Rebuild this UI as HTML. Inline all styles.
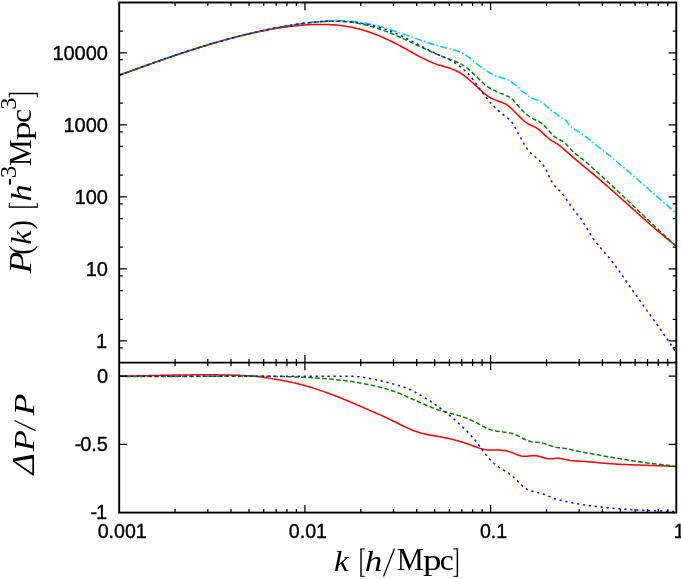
<!DOCTYPE html>
<html><head><meta charset="utf-8"><title>P(k)</title>
<style>
html,body{margin:0;padding:0;background:#fff;}
body{width:681px;height:579px;position:relative;overflow:hidden;font-family:"Liberation Sans",sans-serif;}
</style></head><body>
<svg width="681" height="579" viewBox="0 0 681 579" style="position:absolute;left:0;top:0;will-change:transform">
<rect x="0" y="0" width="681" height="579" fill="#fff"/>
<defs><clipPath id="ct"><rect x="119.2" y="2.5" width="557.1" height="360.1"/></clipPath>
<clipPath id="cb"><rect x="119.2" y="362.6" width="557.1" height="150"/></clipPath></defs>
<g fill="none" stroke-width="1.5" stroke-linejoin="round" clip-path="url(#ct)">
<path d="M119.2,75.19 L120.7,74.66 L122.2,74.13 L123.7,73.6 L125.2,73.07 L126.7,72.54 L128.2,72 L129.7,71.47 L131.2,70.94 L132.7,70.4 L134.2,69.87 L135.7,69.33 L137.2,68.79 L138.7,68.26 L140.2,67.72 L141.7,67.18 L143.2,66.65 L144.7,66.11 L146.2,65.57 L147.7,65.04 L149.2,64.5 L150.7,63.97 L152.2,63.43 L153.7,62.9 L155.2,62.36 L156.7,61.83 L158.2,61.3 L159.7,60.77 L161.2,60.24 L162.7,59.71 L164.2,59.18 L165.7,58.66 L167.2,58.13 L168.7,57.61 L170.2,57.09 L171.7,56.57 L173.2,56.05 L174.7,55.53 L176.2,55.02 L177.7,54.51 L179.2,54 L180.7,53.49 L182.2,52.98 L183.7,52.48 L185.2,51.98 L186.7,51.48 L188.2,50.99 L189.7,50.5 L191.2,50.01 L192.7,49.52 L194.2,49.04 L195.7,48.56 L197.2,48.08 L198.7,47.6 L200.2,47.13 L201.7,46.67 L203.2,46.2 L204.7,45.74 L206.2,45.29 L207.7,44.84 L209.2,44.39 L210.7,43.94 L212.2,43.5 L213.7,43.07 L215.2,42.64 L216.7,42.21 L218.2,41.78 L219.7,41.36 L221.2,40.95 L222.7,40.53 L224.2,40.12 L225.7,39.72 L227.2,39.32 L228.7,38.92 L230.2,38.52 L231.7,38.13 L233.2,37.74 L234.7,37.36 L236.2,36.98 L237.7,36.6 L239.2,36.23 L240.7,35.86 L242.2,35.49 L243.7,35.13 L245.2,34.77 L246.7,34.41 L248.2,34.06 L249.7,33.7 L251.2,33.36 L252.7,33.01 L254.2,32.67 L255.7,32.33 L257.2,32 L258.7,31.66 L260.2,31.34 L261.7,31.01 L263.2,30.69 L264.7,30.36 L266.2,30.05 L267.7,29.73 L269.2,29.42 L270.7,29.11 L272.2,28.8 L273.7,28.5 L275.2,28.2 L276.7,27.9 L278.2,27.6 L279.7,27.31 L281.2,27.02 L282.7,26.74 L284.2,26.45 L285.7,26.18 L287.2,25.9 L288.7,25.63 L290.2,25.37 L291.7,25.11 L293.2,24.85 L294.7,24.61 L296.2,24.36 L297.7,24.12 L299.2,23.89 L300.7,23.67 L302.2,23.45 L303.7,23.24 L305.2,23.03 L306.7,22.83 L308.2,22.64 L309.7,22.46 L311.2,22.28 L312.7,22.12 L314.2,21.96 L315.7,21.81 L317.2,21.67 L318.7,21.53 L320.2,21.41 L321.7,21.3 L323.2,21.19 L324.7,21.1 L326.2,21.01 L327.7,20.94 L329.2,20.88 L330.7,20.82 L332.2,20.78 L333.7,20.75 L335.2,20.73 L336.7,20.72 L338.2,20.73 L339.7,20.74 L341.2,20.77 L342.7,20.81 L344.2,20.87 L345.7,20.94 L347.2,21.02 L348.7,21.11 L350.2,21.22 L351.7,21.34 L353.2,21.47 L354.7,21.62 L356.2,21.79 L357.7,21.97 L359.2,22.16 L360.7,22.37 L362.2,22.59 L363.7,22.83 L365.2,23.09 L366.7,23.36 L368.2,23.65 L369.7,23.96 L371.2,24.28 L372.7,24.62 L374.2,24.97 L375.7,25.34 L377.2,25.72 L378.7,26.12 L380.2,26.53 L381.7,26.95 L383.2,27.38 L384.7,27.82 L386.2,28.28 L387.7,28.74 L389.2,29.22 L390.7,29.7 L392.2,30.19 L393.7,30.68 L395.2,31.19 L396.7,31.7 L398.2,32.21 L399.7,32.73 L401.2,33.26 L402.7,33.79 L404.2,34.32 L405.7,34.85 L407.2,35.39 L408.7,35.92 L410.2,36.46 L411.7,37 L413.2,37.53 L414.7,38.07 L416.2,38.6 L417.7,39.13 L419.2,39.66 L420.7,40.18 L422.2,40.7 L423.7,41.22 L425.2,41.72 L426.7,42.23 L428.2,42.72 L429.7,43.21 L431.2,43.69 L432.7,44.16 L434.2,44.62 L435.7,45.07 L437.2,45.51 L438.7,45.94 L440.2,46.36 L441.7,46.76 L443.2,47.16 L444.7,47.53 L446.2,47.9 L447.7,48.26 L449.2,48.62 L450.7,48.99 L452.2,49.38 L453.7,49.8 L455.2,50.25 L456.7,50.75 L458.2,51.3 L459.7,51.91 L461.2,52.58 L462.7,53.34 L464.2,54.17 L465.7,55.11 L467.2,56.14 L468.7,57.27 L470.2,58.46 L471.7,59.7 L473.2,60.95 L474.7,62.19 L476.2,63.39 L477.7,64.56 L479.2,65.7 L480.7,66.8 L482.2,67.87 L483.7,68.91 L485.2,69.91 L486.7,70.88 L488.2,71.82 L489.7,72.72 L491.2,73.57 L492.7,74.38 L494.2,75.11 L495.7,75.77 L497.2,76.34 L498.7,76.84 L500.2,77.3 L501.7,77.74 L503.2,78.2 L504.7,78.69 L506.2,79.26 L507.7,79.93 L509.2,80.72 L510.7,81.68 L512.2,82.78 L513.7,83.85 L515.2,84.71 L516.7,85.58 L518.2,86.85 L519.7,88.72 L521.2,90.57 L522.7,91.78 L524.2,92.57 L525.7,93.48 L527.2,94.77 L528.7,96.12 L530.2,97.23 L531.7,98.08 L533.2,98.76 L534.7,99.32 L536.2,99.85 L537.7,100.41 L539.2,101.03 L540.7,101.77 L542.2,102.66 L543.7,103.73 L545.2,104.99 L546.7,106.37 L548.2,107.79 L549.7,109.16 L551.2,110.4 L552.7,111.48 L554.2,112.48 L555.7,113.48 L557.2,114.57 L558.7,115.81 L560.2,117.1 L561.7,118.07 L563.2,118.62 L564.7,119.32 L566.2,120.79 L567.7,122.94 L569.2,125.02 L570.7,126.63 L572.2,127.85 L573.7,128.81 L575.2,129.63 L576.7,130.44 L578.2,131.32 L579.7,132.27 L581.2,133.28 L582.7,134.34 L584.2,135.44 L585.7,136.58 L587.2,137.76 L588.7,138.95 L590.2,140.17 L591.7,141.4 L593.2,142.64 L594.7,143.87 L596.2,145.1 L597.7,146.31 L599.2,147.5 L600.7,148.67 L602.2,149.84 L603.7,151 L605.2,152.17 L606.7,153.35 L608.2,154.55 L609.7,155.76 L611.2,156.98 L612.7,158.22 L614.2,159.46 L615.7,160.71 L617.2,161.97 L618.7,163.24 L620.2,164.52 L621.7,165.79 L623.2,167.08 L624.7,168.36 L626.2,169.65 L627.7,170.94 L629.2,172.23 L630.7,173.53 L632.2,174.82 L633.7,176.12 L635.2,177.43 L636.7,178.73 L638.2,180.03 L639.7,181.34 L641.2,182.65 L642.7,183.96 L644.2,185.27 L645.7,186.58 L647.2,187.9 L648.7,189.21 L650.2,190.53 L651.7,191.84 L653.2,193.16 L654.7,194.48 L656.2,195.8 L657.7,197.12 L659.2,198.44 L660.7,199.75 L662.2,201.07 L663.7,202.39 L665.2,203.71 L666.7,205.03 L668.2,206.35 L669.7,207.67 L671.2,208.99 L672.7,210.31 L674.2,211.62 L675.7,212.94 L676.2,213.38" stroke="#00c8ff" stroke-dasharray="7.2 2.3 1.5 2.3"/>
<path d="M119.2,75.19 L120.7,74.66 L122.2,74.13 L123.7,73.59 L125.2,73.06 L126.7,72.52 L128.2,71.98 L129.7,71.45 L131.2,70.91 L132.7,70.37 L134.2,69.84 L135.7,69.3 L137.2,68.76 L138.7,68.23 L140.2,67.69 L141.7,67.15 L143.2,66.62 L144.7,66.08 L146.2,65.55 L147.7,65.01 L149.2,64.48 L150.7,63.94 L152.2,63.41 L153.7,62.88 L155.2,62.35 L156.7,61.82 L158.2,61.29 L159.7,60.76 L161.2,60.24 L162.7,59.71 L164.2,59.19 L165.7,58.66 L167.2,58.14 L168.7,57.62 L170.2,57.1 L171.7,56.59 L173.2,56.07 L174.7,55.56 L176.2,55.05 L177.7,54.54 L179.2,54.03 L180.7,53.53 L182.2,53.02 L183.7,52.52 L185.2,52.02 L186.7,51.53 L188.2,51.03 L189.7,50.54 L191.2,50.06 L192.7,49.57 L194.2,49.09 L195.7,48.61 L197.2,48.13 L198.7,47.65 L200.2,47.18 L201.7,46.72 L203.2,46.25 L204.7,45.79 L206.2,45.33 L207.7,44.87 L209.2,44.42 L210.7,43.97 L212.2,43.53 L213.7,43.09 L215.2,42.65 L216.7,42.22 L218.2,41.79 L219.7,41.36 L221.2,40.94 L222.7,40.52 L224.2,40.11 L225.7,39.69 L227.2,39.29 L228.7,38.88 L230.2,38.49 L231.7,38.09 L233.2,37.7 L234.7,37.31 L236.2,36.93 L237.7,36.55 L239.2,36.18 L240.7,35.81 L242.2,35.44 L243.7,35.08 L245.2,34.72 L246.7,34.37 L248.2,34.02 L249.7,33.68 L251.2,33.34 L252.7,33 L254.2,32.67 L255.7,32.35 L257.2,32.02 L258.7,31.71 L260.2,31.4 L261.7,31.09 L263.2,30.79 L264.7,30.49 L266.2,30.2 L267.7,29.91 L269.2,29.63 L270.7,29.36 L272.2,29.09 L273.7,28.82 L275.2,28.57 L276.7,28.31 L278.2,28.07 L279.7,27.83 L281.2,27.6 L282.7,27.37 L284.2,27.16 L285.7,26.94 L287.2,26.74 L288.7,26.54 L290.2,26.36 L291.7,26.17 L293.2,26 L294.7,25.84 L296.2,25.68 L297.7,25.53 L299.2,25.39 L300.7,25.26 L302.2,25.13 L303.7,25.02 L305.2,24.91 L306.7,24.82 L308.2,24.73 L309.7,24.65 L311.2,24.58 L312.7,24.52 L314.2,24.48 L315.7,24.44 L317.2,24.41 L318.7,24.39 L320.2,24.38 L321.7,24.39 L323.2,24.4 L324.7,24.43 L326.2,24.46 L327.7,24.51 L329.2,24.57 L330.7,24.65 L332.2,24.74 L333.7,24.84 L335.2,24.96 L336.7,25.09 L338.2,25.23 L339.7,25.39 L341.2,25.57 L342.7,25.76 L344.2,25.97 L345.7,26.19 L347.2,26.44 L348.7,26.69 L350.2,26.97 L351.7,27.26 L353.2,27.58 L354.7,27.91 L356.2,28.26 L357.7,28.63 L359.2,29.02 L360.7,29.42 L362.2,29.85 L363.7,30.29 L365.2,30.75 L366.7,31.22 L368.2,31.72 L369.7,32.23 L371.2,32.76 L372.7,33.3 L374.2,33.86 L375.7,34.44 L377.2,35.03 L378.7,35.64 L380.2,36.26 L381.7,36.9 L383.2,37.55 L384.7,38.22 L386.2,38.9 L387.7,39.6 L389.2,40.31 L390.7,41.03 L392.2,41.77 L393.7,42.52 L395.2,43.28 L396.7,44.06 L398.2,44.85 L399.7,45.65 L401.2,46.46 L402.7,47.28 L404.2,48.1 L405.7,48.94 L407.2,49.77 L408.7,50.61 L410.2,51.45 L411.7,52.28 L413.2,53.12 L414.7,53.94 L416.2,54.76 L417.7,55.57 L419.2,56.37 L420.7,57.16 L422.2,57.93 L423.7,58.68 L425.2,59.42 L426.7,60.14 L428.2,60.83 L429.7,61.5 L431.2,62.15 L432.7,62.76 L434.2,63.35 L435.7,63.91 L437.2,64.43 L438.7,64.92 L440.2,65.39 L441.7,65.83 L443.2,66.26 L444.7,66.69 L446.2,67.13 L447.7,67.58 L449.2,68.05 L450.7,68.55 L452.2,69.09 L453.7,69.68 L455.2,70.31 L456.7,71.02 L458.2,71.79 L459.7,72.64 L461.2,73.58 L462.7,74.59 L464.2,75.67 L465.7,76.82 L467.2,78.02 L468.7,79.27 L470.2,80.57 L471.7,81.9 L473.2,83.27 L474.7,84.65 L476.2,86.05 L477.7,87.45 L479.2,88.84 L480.7,90.21 L482.2,91.55 L483.7,92.84 L485.2,94.07 L486.7,95.23 L488.2,96.31 L489.7,97.29 L491.2,98.17 L492.7,98.93 L494.2,99.58 L495.7,100.15 L497.2,100.67 L498.7,101.17 L500.2,101.68 L501.7,102.23 L503.2,102.85 L504.7,103.58 L506.2,104.44 L507.7,105.46 L509.2,106.63 L510.7,107.93 L512.2,109.32 L513.7,110.79 L515.2,112.31 L516.7,113.84 L518.2,115.37 L519.7,116.88 L521.2,118.34 L522.7,119.74 L524.2,121.05 L525.7,122.24 L527.2,123.31 L528.7,124.23 L530.2,124.98 L531.7,125.64 L533.2,126.27 L534.7,126.95 L536.2,127.76 L537.7,128.75 L539.2,129.9 L540.7,131.16 L542.2,132.52 L543.7,133.92 L545.2,135.33 L546.7,136.72 L548.2,138.05 L549.7,139.29 L551.2,140.39 L552.7,141.35 L554.2,142.22 L555.7,143.08 L557.2,143.97 L558.7,144.95 L560.2,146.06 L561.7,147.26 L563.2,148.55 L564.7,149.88 L566.2,151.25 L567.7,152.62 L569.2,153.98 L570.7,155.31 L572.2,156.62 L573.7,157.91 L575.2,159.18 L576.7,160.44 L578.2,161.69 L579.7,162.94 L581.2,164.19 L582.7,165.43 L584.2,166.67 L585.7,167.91 L587.2,169.15 L588.7,170.39 L590.2,171.63 L591.7,172.88 L593.2,174.13 L594.7,175.38 L596.2,176.64 L597.7,177.9 L599.2,179.17 L600.7,180.46 L602.2,181.74 L603.7,183.04 L605.2,184.34 L606.7,185.65 L608.2,186.96 L609.7,188.28 L611.2,189.6 L612.7,190.93 L614.2,192.26 L615.7,193.6 L617.2,194.94 L618.7,196.28 L620.2,197.62 L621.7,198.97 L623.2,200.32 L624.7,201.67 L626.2,203.02 L627.7,204.37 L629.2,205.72 L630.7,207.07 L632.2,208.42 L633.7,209.77 L635.2,211.12 L636.7,212.47 L638.2,213.81 L639.7,215.16 L641.2,216.49 L642.7,217.83 L644.2,219.16 L645.7,220.49 L647.2,221.81 L648.7,223.13 L650.2,224.44 L651.7,225.75 L653.2,227.05 L654.7,228.34 L656.2,229.63 L657.7,230.91 L659.2,232.18 L660.7,233.45 L662.2,234.7 L663.7,235.95 L665.2,237.19 L666.7,238.42 L668.2,239.63 L669.7,240.84 L671.2,242.04 L672.7,243.22 L674.2,244.39 L675.7,245.55 L676.2,245.94" stroke="#ff0000"/>
<path d="M119.2,75.24 L120.7,74.69 L122.2,74.14 L123.7,73.59 L125.2,73.04 L126.7,72.49 L128.2,71.94 L129.7,71.39 L131.2,70.84 L132.7,70.3 L134.2,69.75 L135.7,69.21 L137.2,68.67 L138.7,68.13 L140.2,67.59 L141.7,67.05 L143.2,66.51 L144.7,65.97 L146.2,65.44 L147.7,64.9 L149.2,64.37 L150.7,63.84 L152.2,63.31 L153.7,62.78 L155.2,62.25 L156.7,61.73 L158.2,61.2 L159.7,60.68 L161.2,60.16 L162.7,59.64 L164.2,59.13 L165.7,58.61 L167.2,58.1 L168.7,57.58 L170.2,57.07 L171.7,56.57 L173.2,56.06 L174.7,55.56 L176.2,55.05 L177.7,54.55 L179.2,54.05 L180.7,53.56 L182.2,53.06 L183.7,52.57 L185.2,52.08 L186.7,51.59 L188.2,51.11 L189.7,50.63 L191.2,50.15 L192.7,49.67 L194.2,49.19 L195.7,48.72 L197.2,48.25 L198.7,47.78 L200.2,47.31 L201.7,46.85 L203.2,46.39 L204.7,45.93 L206.2,45.47 L207.7,45.02 L209.2,44.57 L210.7,44.12 L212.2,43.68 L213.7,43.24 L215.2,42.8 L216.7,42.36 L218.2,41.93 L219.7,41.5 L221.2,41.07 L222.7,40.65 L224.2,40.23 L225.7,39.81 L227.2,39.4 L228.7,38.98 L230.2,38.58 L231.7,38.17 L233.2,37.77 L234.7,37.37 L236.2,36.98 L237.7,36.58 L239.2,36.2 L240.7,35.81 L242.2,35.43 L243.7,35.05 L245.2,34.68 L246.7,34.31 L248.2,33.94 L249.7,33.58 L251.2,33.22 L252.7,32.87 L254.2,32.52 L255.7,32.17 L257.2,31.83 L258.7,31.49 L260.2,31.16 L261.7,30.83 L263.2,30.5 L264.7,30.18 L266.2,29.86 L267.7,29.55 L269.2,29.24 L270.7,28.93 L272.2,28.63 L273.7,28.34 L275.2,28.05 L276.7,27.76 L278.2,27.48 L279.7,27.21 L281.2,26.93 L282.7,26.67 L284.2,26.41 L285.7,26.15 L287.2,25.9 L288.7,25.65 L290.2,25.41 L291.7,25.17 L293.2,24.94 L294.7,24.71 L296.2,24.49 L297.7,24.28 L299.2,24.07 L300.7,23.86 L302.2,23.66 L303.7,23.47 L305.2,23.28 L306.7,23.1 L308.2,22.92 L309.7,22.75 L311.2,22.59 L312.7,22.43 L314.2,22.28 L315.7,22.14 L317.2,22 L318.7,21.88 L320.2,21.76 L321.7,21.65 L323.2,21.56 L324.7,21.47 L326.2,21.4 L327.7,21.33 L329.2,21.28 L330.7,21.24 L332.2,21.22 L333.7,21.21 L335.2,21.21 L336.7,21.22 L338.2,21.25 L339.7,21.3 L341.2,21.36 L342.7,21.44 L344.2,21.53 L345.7,21.64 L347.2,21.77 L348.7,21.91 L350.2,22.08 L351.7,22.26 L353.2,22.46 L354.7,22.68 L356.2,22.93 L357.7,23.19 L359.2,23.47 L360.7,23.77 L362.2,24.09 L363.7,24.43 L365.2,24.78 L366.7,25.15 L368.2,25.54 L369.7,25.95 L371.2,26.37 L372.7,26.81 L374.2,27.27 L375.7,27.74 L377.2,28.22 L378.7,28.72 L380.2,29.23 L381.7,29.76 L383.2,30.3 L384.7,30.86 L386.2,31.42 L387.7,32 L389.2,32.59 L390.7,33.19 L392.2,33.81 L393.7,34.43 L395.2,35.07 L396.7,35.71 L398.2,36.37 L399.7,37.03 L401.2,37.7 L402.7,38.38 L404.2,39.07 L405.7,39.76 L407.2,40.46 L408.7,41.16 L410.2,41.87 L411.7,42.58 L413.2,43.29 L414.7,44.01 L416.2,44.72 L417.7,45.44 L419.2,46.15 L420.7,46.86 L422.2,47.57 L423.7,48.27 L425.2,48.97 L426.7,49.67 L428.2,50.36 L429.7,51.04 L431.2,51.72 L432.7,52.38 L434.2,53.04 L435.7,53.69 L437.2,54.33 L438.7,54.95 L440.2,55.57 L441.7,56.17 L443.2,56.75 L444.7,57.32 L446.2,57.88 L447.7,58.43 L449.2,58.98 L450.7,59.53 L452.2,60.1 L453.7,60.69 L455.2,61.31 L456.7,61.96 L458.2,62.66 L459.7,63.41 L461.2,64.21 L462.7,65.09 L464.2,66.03 L465.7,67.06 L467.2,68.17 L468.7,69.37 L470.2,70.65 L471.7,72 L473.2,73.4 L474.7,74.85 L476.2,76.32 L477.7,77.81 L479.2,79.29 L480.7,80.75 L482.2,82.17 L483.7,83.53 L485.2,84.81 L486.7,85.99 L488.2,87.06 L489.7,88 L491.2,88.83 L492.7,89.58 L494.2,90.31 L495.7,91.04 L497.2,91.82 L498.7,92.56 L500.2,93.16 L501.7,93.65 L503.2,94.17 L504.7,94.86 L506.2,95.61 L507.7,96.23 L509.2,96.84 L510.7,97.71 L512.2,99.07 L513.7,100.76 L515.2,102.51 L516.7,104.24 L518.2,105.93 L519.7,107.59 L521.2,109.18 L522.7,110.72 L524.2,112.18 L525.7,113.55 L527.2,114.84 L528.7,116.01 L530.2,117.08 L531.7,118.01 L533.2,118.83 L534.7,119.55 L536.2,120.23 L537.7,120.95 L539.2,121.74 L540.7,122.68 L542.2,123.79 L543.7,125.1 L545.2,126.62 L546.7,128.29 L548.2,130.04 L549.7,131.79 L551.2,133.47 L552.7,135.02 L554.2,136.37 L555.7,137.48 L557.2,138.39 L558.7,139.2 L560.2,139.96 L561.7,140.74 L563.2,141.65 L564.7,142.77 L566.2,144.23 L567.7,145.94 L569.2,147.66 L570.7,149.27 L572.2,150.75 L573.7,152.14 L575.2,153.45 L576.7,154.69 L578.2,155.89 L579.7,157.07 L581.2,158.24 L582.7,159.42 L584.2,160.64 L585.7,161.89 L587.2,163.17 L588.7,164.47 L590.2,165.79 L591.7,167.12 L593.2,168.46 L594.7,169.8 L596.2,171.15 L597.7,172.5 L599.2,173.86 L600.7,175.23 L602.2,176.6 L603.7,177.98 L605.2,179.36 L606.7,180.75 L608.2,182.14 L609.7,183.53 L611.2,184.93 L612.7,186.33 L614.2,187.74 L615.7,189.15 L617.2,190.56 L618.7,191.98 L620.2,193.4 L621.7,194.82 L623.2,196.24 L624.7,197.67 L626.2,199.09 L627.7,200.52 L629.2,201.95 L630.7,203.38 L632.2,204.81 L633.7,206.24 L635.2,207.68 L636.7,209.11 L638.2,210.54 L639.7,211.97 L641.2,213.4 L642.7,214.83 L644.2,216.26 L645.7,217.69 L647.2,219.11 L648.7,220.54 L650.2,221.96 L651.7,223.38 L653.2,224.8 L654.7,226.21 L656.2,227.62 L657.7,229.03 L659.2,230.44 L660.7,231.84 L662.2,233.24 L663.7,234.63 L665.2,236.02 L666.7,237.41 L668.2,238.79 L669.7,240.16 L671.2,241.53 L672.7,242.9 L674.2,244.26 L675.7,245.61 L676.2,246.06" stroke="#0b7d0b" stroke-dasharray="4.7 2.3"/>
<path d="M119.2,75.29 L120.7,74.73 L122.2,74.17 L123.7,73.61 L125.2,73.05 L126.7,72.49 L128.2,71.94 L129.7,71.38 L131.2,70.83 L132.7,70.28 L134.2,69.72 L135.7,69.18 L137.2,68.63 L138.7,68.08 L140.2,67.54 L141.7,67 L143.2,66.45 L144.7,65.91 L146.2,65.38 L147.7,64.84 L149.2,64.31 L150.7,63.77 L152.2,63.24 L153.7,62.71 L155.2,62.18 L156.7,61.66 L158.2,61.13 L159.7,60.61 L161.2,60.09 L162.7,59.57 L164.2,59.06 L165.7,58.54 L167.2,58.03 L168.7,57.52 L170.2,57.01 L171.7,56.51 L173.2,56 L174.7,55.5 L176.2,55 L177.7,54.5 L179.2,54.01 L180.7,53.51 L182.2,53.02 L183.7,52.54 L185.2,52.05 L186.7,51.56 L188.2,51.08 L189.7,50.6 L191.2,50.13 L192.7,49.65 L194.2,49.18 L195.7,48.71 L197.2,48.24 L198.7,47.78 L200.2,47.32 L201.7,46.86 L203.2,46.4 L204.7,45.95 L206.2,45.5 L207.7,45.05 L209.2,44.6 L210.7,44.16 L212.2,43.72 L213.7,43.28 L215.2,42.84 L216.7,42.41 L218.2,41.98 L219.7,41.55 L221.2,41.13 L222.7,40.71 L224.2,40.29 L225.7,39.88 L227.2,39.47 L228.7,39.06 L230.2,38.65 L231.7,38.25 L233.2,37.85 L234.7,37.45 L236.2,37.06 L237.7,36.67 L239.2,36.28 L240.7,35.9 L242.2,35.52 L243.7,35.14 L245.2,34.77 L246.7,34.4 L248.2,34.03 L249.7,33.67 L251.2,33.31 L252.7,32.95 L254.2,32.6 L255.7,32.25 L257.2,31.9 L258.7,31.56 L260.2,31.22 L261.7,30.88 L263.2,30.55 L264.7,30.22 L266.2,29.9 L267.7,29.58 L269.2,29.26 L270.7,28.95 L272.2,28.64 L273.7,28.33 L275.2,28.03 L276.7,27.73 L278.2,27.43 L279.7,27.14 L281.2,26.86 L282.7,26.58 L284.2,26.3 L285.7,26.03 L287.2,25.76 L288.7,25.5 L290.2,25.25 L291.7,25 L293.2,24.76 L294.7,24.52 L296.2,24.29 L297.7,24.07 L299.2,23.85 L300.7,23.64 L302.2,23.44 L303.7,23.24 L305.2,23.06 L306.7,22.88 L308.2,22.7 L309.7,22.54 L311.2,22.38 L312.7,22.24 L314.2,22.1 L315.7,21.97 L317.2,21.85 L318.7,21.74 L320.2,21.64 L321.7,21.55 L323.2,21.47 L324.7,21.4 L326.2,21.33 L327.7,21.28 L329.2,21.24 L330.7,21.22 L332.2,21.2 L333.7,21.19 L335.2,21.2 L336.7,21.21 L338.2,21.24 L339.7,21.28 L341.2,21.34 L342.7,21.4 L344.2,21.48 L345.7,21.57 L347.2,21.67 L348.7,21.79 L350.2,21.92 L351.7,22.07 L353.2,22.22 L354.7,22.4 L356.2,22.58 L357.7,22.78 L359.2,23 L360.7,23.23 L362.2,23.47 L363.7,23.74 L365.2,24.01 L366.7,24.3 L368.2,24.61 L369.7,24.93 L371.2,25.27 L372.7,25.63 L374.2,26 L375.7,26.39 L377.2,26.8 L378.7,27.22 L380.2,27.66 L381.7,28.12 L383.2,28.59 L384.7,29.09 L386.2,29.6 L387.7,30.13 L389.2,30.68 L390.7,31.24 L392.2,31.83 L393.7,32.44 L395.2,33.06 L396.7,33.7 L398.2,34.37 L399.7,35.05 L401.2,35.75 L402.7,36.47 L404.2,37.21 L405.7,37.96 L407.2,38.72 L408.7,39.49 L410.2,40.28 L411.7,41.07 L413.2,41.86 L414.7,42.66 L416.2,43.46 L417.7,44.27 L419.2,45.07 L420.7,45.87 L422.2,46.67 L423.7,47.46 L425.2,48.25 L426.7,49.03 L428.2,49.79 L429.7,50.55 L431.2,51.29 L432.7,52.02 L434.2,52.74 L435.7,53.45 L437.2,54.15 L438.7,54.84 L440.2,55.53 L441.7,56.21 L443.2,56.89 L444.7,57.56 L446.2,58.24 L447.7,58.93 L449.2,59.64 L450.7,60.39 L452.2,61.19 L453.7,62.05 L455.2,62.98 L456.7,63.97 L458.2,65.03 L459.7,66.16 L461.2,67.36 L462.7,68.64 L464.2,69.99 L465.7,71.42 L467.2,72.93 L468.7,74.52 L470.2,76.2 L471.7,77.96 L473.2,79.81 L474.7,81.76 L476.2,83.78 L477.7,85.86 L479.2,87.98 L480.7,90.11 L482.2,92.24 L483.7,94.33 L485.2,96.37 L486.7,98.33 L488.2,100.19 L489.7,101.95 L491.2,103.62 L492.7,105.2 L494.2,106.71 L495.7,108.14 L497.2,109.52 L498.7,110.84 L500.2,112.12 L501.7,113.36 L503.2,114.58 L504.7,115.79 L506.2,116.98 L507.7,118.18 L509.2,119.46 L510.7,120.93 L512.2,122.7 L513.7,124.9 L515.2,127.59 L516.7,130.54 L518.2,133.38 L519.7,136.04 L521.2,138.68 L522.7,141.42 L524.2,144.13 L525.7,146.63 L527.2,148.83 L528.7,150.74 L530.2,152.41 L531.7,153.89 L533.2,155.23 L534.7,156.5 L536.2,157.75 L537.7,159.04 L539.2,160.41 L540.7,161.93 L542.2,163.67 L543.7,165.72 L545.2,168.15 L546.7,171.04 L548.2,174.37 L549.7,177.77 L551.2,180.76 L552.7,183.19 L554.2,185.18 L555.7,186.85 L557.2,188.34 L558.7,189.78 L560.2,191.29 L561.7,192.99 L563.2,194.91 L564.7,196.99 L566.2,199.16 L567.7,201.38 L569.2,203.59 L570.7,205.74 L572.2,207.77 L573.7,209.7 L575.2,211.57 L576.7,213.42 L578.2,215.31 L579.7,217.27 L581.2,219.35 L582.7,221.6 L584.2,223.97 L585.7,226.44 L587.2,228.95 L588.7,231.46 L590.2,233.92 L591.7,236.29 L593.2,238.52 L594.7,240.62 L596.2,242.61 L597.7,244.51 L599.2,246.33 L600.7,248.1 L602.2,249.83 L603.7,251.53 L605.2,253.23 L606.7,254.95 L608.2,256.7 L609.7,258.5 L611.2,260.36 L612.7,262.28 L614.2,264.25 L615.7,266.27 L617.2,268.33 L618.7,270.43 L620.2,272.55 L621.7,274.69 L623.2,276.85 L624.7,279.02 L626.2,281.2 L627.7,283.37 L629.2,285.53 L630.7,287.68 L632.2,289.82 L633.7,291.95 L635.2,294.08 L636.7,296.19 L638.2,298.3 L639.7,300.41 L641.2,302.5 L642.7,304.6 L644.2,306.69 L645.7,308.79 L647.2,310.88 L648.7,312.97 L650.2,315.06 L651.7,317.16 L653.2,319.25 L654.7,321.35 L656.2,323.46 L657.7,325.57 L659.2,327.69 L660.7,329.82 L662.2,331.95 L663.7,334.1 L665.2,336.25 L666.7,338.42 L668.2,340.6 L669.7,342.79 L671.2,345 L672.7,347.22 L674.2,349.46 L675.7,351.72 L676.2,352.47" stroke="#0a0aff" stroke-dasharray="2.3 3.65"/>
</g>
<g fill="none" stroke-width="1.5" stroke-linejoin="round" clip-path="url(#cb)">
<path d="M119.2,376.21 L120.7,376.18 L122.2,376.15 L123.7,376.13 L125.2,376.1 L126.7,376.07 L128.2,376.04 L129.7,376.01 L131.2,375.98 L132.7,375.95 L134.2,375.92 L135.7,375.89 L137.2,375.86 L138.7,375.83 L140.2,375.79 L141.7,375.76 L143.2,375.73 L144.7,375.7 L146.2,375.66 L147.7,375.63 L149.2,375.6 L150.7,375.57 L152.2,375.53 L153.7,375.5 L155.2,375.47 L156.7,375.44 L158.2,375.41 L159.7,375.38 L161.2,375.35 L162.7,375.32 L164.2,375.29 L165.7,375.26 L167.2,375.23 L168.7,375.2 L170.2,375.17 L171.7,375.14 L173.2,375.12 L174.7,375.09 L176.2,375.07 L177.7,375.04 L179.2,375.02 L180.7,375 L182.2,374.98 L183.7,374.96 L185.2,374.94 L186.7,374.92 L188.2,374.91 L189.7,374.89 L191.2,374.88 L192.7,374.86 L194.2,374.85 L195.7,374.84 L197.2,374.83 L198.7,374.83 L200.2,374.82 L201.7,374.82 L203.2,374.81 L204.7,374.81 L206.2,374.81 L207.7,374.81 L209.2,374.82 L210.7,374.83 L212.2,374.83 L213.7,374.84 L215.2,374.85 L216.7,374.87 L218.2,374.88 L219.7,374.9 L221.2,374.92 L222.7,374.94 L224.2,374.97 L225.7,375 L227.2,375.02 L228.7,375.06 L230.2,375.09 L231.7,375.13 L233.2,375.16 L234.7,375.2 L236.2,375.25 L237.7,375.29 L239.2,375.35 L240.7,375.4 L242.2,375.46 L243.7,375.53 L245.2,375.6 L246.7,375.68 L248.2,375.76 L249.7,375.86 L251.2,375.96 L252.7,376.08 L254.2,376.2 L255.7,376.34 L257.2,376.49 L258.7,376.65 L260.2,376.82 L261.7,377.01 L263.2,377.21 L264.7,377.42 L266.2,377.65 L267.7,377.88 L269.2,378.12 L270.7,378.37 L272.2,378.63 L273.7,378.88 L275.2,379.14 L276.7,379.41 L278.2,379.67 L279.7,379.94 L281.2,380.21 L282.7,380.49 L284.2,380.78 L285.7,381.07 L287.2,381.36 L288.7,381.67 L290.2,381.98 L291.7,382.3 L293.2,382.64 L294.7,382.98 L296.2,383.33 L297.7,383.69 L299.2,384.07 L300.7,384.45 L302.2,384.85 L303.7,385.26 L305.2,385.67 L306.7,386.1 L308.2,386.54 L309.7,386.98 L311.2,387.44 L312.7,387.9 L314.2,388.37 L315.7,388.85 L317.2,389.34 L318.7,389.84 L320.2,390.34 L321.7,390.85 L323.2,391.37 L324.7,391.9 L326.2,392.44 L327.7,392.98 L329.2,393.53 L330.7,394.08 L332.2,394.65 L333.7,395.22 L335.2,395.79 L336.7,396.38 L338.2,396.97 L339.7,397.56 L341.2,398.16 L342.7,398.77 L344.2,399.39 L345.7,400 L347.2,400.63 L348.7,401.26 L350.2,401.89 L351.7,402.53 L353.2,403.17 L354.7,403.81 L356.2,404.46 L357.7,405.11 L359.2,405.76 L360.7,406.41 L362.2,407.06 L363.7,407.72 L365.2,408.37 L366.7,409.02 L368.2,409.68 L369.7,410.33 L371.2,410.98 L372.7,411.63 L374.2,412.29 L375.7,412.95 L377.2,413.61 L378.7,414.27 L380.2,414.94 L381.7,415.61 L383.2,416.29 L384.7,416.98 L386.2,417.68 L387.7,418.38 L389.2,419.09 L390.7,419.81 L392.2,420.54 L393.7,421.28 L395.2,422.03 L396.7,422.78 L398.2,423.52 L399.7,424.27 L401.2,425.01 L402.7,425.75 L404.2,426.47 L405.7,427.18 L407.2,427.87 L408.7,428.55 L410.2,429.2 L411.7,429.83 L413.2,430.43 L414.7,431.01 L416.2,431.55 L417.7,432.05 L419.2,432.52 L420.7,432.96 L422.2,433.36 L423.7,433.74 L425.2,434.09 L426.7,434.42 L428.2,434.72 L429.7,435.02 L431.2,435.3 L432.7,435.56 L434.2,435.82 L435.7,436.08 L437.2,436.33 L438.7,436.59 L440.2,436.85 L441.7,437.11 L443.2,437.39 L444.7,437.68 L446.2,437.98 L447.7,438.3 L449.2,438.63 L450.7,438.98 L452.2,439.34 L453.7,439.72 L455.2,440.11 L456.7,440.52 L458.2,440.94 L459.7,441.38 L461.2,441.83 L462.7,442.29 L464.2,442.78 L465.7,443.27 L467.2,443.79 L468.7,444.31 L470.2,444.85 L471.7,445.41 L473.2,445.97 L474.7,446.54 L476.2,447.08 L477.7,447.61 L479.2,448.1 L480.7,448.56 L482.2,448.96 L483.7,449.3 L485.2,449.56 L486.7,449.76 L488.2,449.89 L489.7,449.98 L491.2,450.02 L492.7,450.04 L494.2,450.05 L495.7,450.05 L497.2,450.05 L498.7,450.08 L500.2,450.13 L501.7,450.23 L503.2,450.38 L504.7,450.58 L506.2,450.84 L507.7,451.18 L509.2,451.6 L510.7,452.09 L512.2,452.67 L513.7,453.28 L515.2,453.91 L516.7,454.51 L518.2,455.06 L519.7,455.53 L521.2,455.91 L522.7,456.18 L524.2,456.32 L525.7,456.32 L527.2,456.22 L528.7,456.07 L530.2,455.91 L531.7,455.78 L533.2,455.72 L534.7,455.74 L536.2,455.86 L537.7,456.09 L539.2,456.42 L540.7,456.81 L542.2,457.23 L543.7,457.66 L545.2,458.06 L546.7,458.41 L548.2,458.68 L549.7,458.83 L551.2,458.84 L552.7,458.73 L554.2,458.55 L555.7,458.37 L557.2,458.26 L558.7,458.27 L560.2,458.41 L561.7,458.64 L563.2,458.94 L564.7,459.27 L566.2,459.63 L567.7,459.97 L569.2,460.28 L570.7,460.52 L572.2,460.69 L573.7,460.81 L575.2,460.9 L576.7,460.98 L578.2,461.05 L579.7,461.14 L581.2,461.23 L582.7,461.32 L584.2,461.42 L585.7,461.53 L587.2,461.64 L588.7,461.76 L590.2,461.89 L591.7,462.02 L593.2,462.17 L594.7,462.32 L596.2,462.47 L597.7,462.62 L599.2,462.77 L600.7,462.91 L602.2,463.05 L603.7,463.18 L605.2,463.31 L606.7,463.43 L608.2,463.55 L609.7,463.66 L611.2,463.76 L612.7,463.87 L614.2,463.96 L615.7,464.06 L617.2,464.15 L618.7,464.23 L620.2,464.31 L621.7,464.39 L623.2,464.46 L624.7,464.54 L626.2,464.6 L627.7,464.67 L629.2,464.73 L630.7,464.79 L632.2,464.85 L633.7,464.91 L635.2,464.97 L636.7,465.02 L638.2,465.07 L639.7,465.12 L641.2,465.17 L642.7,465.22 L644.2,465.27 L645.7,465.32 L647.2,465.37 L648.7,465.41 L650.2,465.46 L651.7,465.51 L653.2,465.56 L654.7,465.61 L656.2,465.66 L657.7,465.71 L659.2,465.76 L660.7,465.82 L662.2,465.87 L663.7,465.93 L665.2,465.99 L666.7,466.05 L668.2,466.12 L669.7,466.19 L671.2,466.25 L672.7,466.33 L674.2,466.4 L675.7,466.48 L676.2,466.51" stroke="#ff0000"/>
<path d="M119.2,376.3 L120.7,376.33 L122.2,376.35 L123.7,376.38 L125.2,376.4 L126.7,376.43 L128.2,376.45 L129.7,376.47 L131.2,376.48 L132.7,376.5 L134.2,376.52 L135.7,376.53 L137.2,376.54 L138.7,376.55 L140.2,376.56 L141.7,376.57 L143.2,376.58 L144.7,376.59 L146.2,376.59 L147.7,376.6 L149.2,376.6 L150.7,376.6 L152.2,376.6 L153.7,376.6 L155.2,376.6 L156.7,376.6 L158.2,376.6 L159.7,376.6 L161.2,376.59 L162.7,376.59 L164.2,376.58 L165.7,376.58 L167.2,376.57 L168.7,376.56 L170.2,376.55 L171.7,376.55 L173.2,376.54 L174.7,376.53 L176.2,376.52 L177.7,376.51 L179.2,376.49 L180.7,376.48 L182.2,376.47 L183.7,376.46 L185.2,376.45 L186.7,376.43 L188.2,376.42 L189.7,376.41 L191.2,376.4 L192.7,376.38 L194.2,376.37 L195.7,376.35 L197.2,376.34 L198.7,376.33 L200.2,376.31 L201.7,376.3 L203.2,376.29 L204.7,376.27 L206.2,376.26 L207.7,376.25 L209.2,376.24 L210.7,376.22 L212.2,376.21 L213.7,376.2 L215.2,376.19 L216.7,376.18 L218.2,376.17 L219.7,376.16 L221.2,376.15 L222.7,376.14 L224.2,376.13 L225.7,376.12 L227.2,376.12 L228.7,376.11 L230.2,376.1 L231.7,376.1 L233.2,376.09 L234.7,376.09 L236.2,376.09 L237.7,376.09 L239.2,376.08 L240.7,376.08 L242.2,376.08 L243.7,376.09 L245.2,376.09 L246.7,376.09 L248.2,376.1 L249.7,376.1 L251.2,376.11 L252.7,376.12 L254.2,376.13 L255.7,376.14 L257.2,376.15 L258.7,376.16 L260.2,376.18 L261.7,376.19 L263.2,376.21 L264.7,376.23 L266.2,376.25 L267.7,376.27 L269.2,376.29 L270.7,376.32 L272.2,376.35 L273.7,376.37 L275.2,376.4 L276.7,376.43 L278.2,376.47 L279.7,376.5 L281.2,376.54 L282.7,376.58 L284.2,376.62 L285.7,376.66 L287.2,376.7 L288.7,376.75 L290.2,376.79 L291.7,376.84 L293.2,376.9 L294.7,376.95 L296.2,377.01 L297.7,377.06 L299.2,377.12 L300.7,377.19 L302.2,377.25 L303.7,377.32 L305.2,377.39 L306.7,377.46 L308.2,377.54 L309.7,377.62 L311.2,377.7 L312.7,377.79 L314.2,377.87 L315.7,377.97 L317.2,378.06 L318.7,378.16 L320.2,378.27 L321.7,378.38 L323.2,378.49 L324.7,378.61 L326.2,378.73 L327.7,378.86 L329.2,378.99 L330.7,379.12 L332.2,379.26 L333.7,379.41 L335.2,379.56 L336.7,379.72 L338.2,379.88 L339.7,380.05 L341.2,380.22 L342.7,380.4 L344.2,380.59 L345.7,380.78 L347.2,380.98 L348.7,381.18 L350.2,381.4 L351.7,381.61 L353.2,381.84 L354.7,382.07 L356.2,382.31 L357.7,382.56 L359.2,382.81 L360.7,383.07 L362.2,383.34 L363.7,383.61 L365.2,383.9 L366.7,384.19 L368.2,384.49 L369.7,384.8 L371.2,385.12 L372.7,385.44 L374.2,385.78 L375.7,386.13 L377.2,386.49 L378.7,386.86 L380.2,387.24 L381.7,387.63 L383.2,388.04 L384.7,388.46 L386.2,388.9 L387.7,389.35 L389.2,389.81 L390.7,390.29 L392.2,390.79 L393.7,391.3 L395.2,391.84 L396.7,392.39 L398.2,392.95 L399.7,393.54 L401.2,394.14 L402.7,394.77 L404.2,395.41 L405.7,396.06 L407.2,396.72 L408.7,397.39 L410.2,398.07 L411.7,398.76 L413.2,399.45 L414.7,400.13 L416.2,400.82 L417.7,401.5 L419.2,402.18 L420.7,402.85 L422.2,403.51 L423.7,404.17 L425.2,404.81 L426.7,405.45 L428.2,406.07 L429.7,406.68 L431.2,407.28 L432.7,407.86 L434.2,408.42 L435.7,408.97 L437.2,409.51 L438.7,410.02 L440.2,410.52 L441.7,410.99 L443.2,411.44 L444.7,411.88 L446.2,412.29 L447.7,412.68 L449.2,413.07 L450.7,413.44 L452.2,413.82 L453.7,414.2 L455.2,414.58 L456.7,414.98 L458.2,415.4 L459.7,415.84 L461.2,416.31 L462.7,416.81 L464.2,417.34 L465.7,417.9 L467.2,418.49 L468.7,419.12 L470.2,419.77 L471.7,420.45 L473.2,421.15 L474.7,421.88 L476.2,422.64 L477.7,423.42 L479.2,424.22 L480.7,425.04 L482.2,425.86 L483.7,426.67 L485.2,427.45 L486.7,428.17 L488.2,428.83 L489.7,429.4 L491.2,429.89 L492.7,430.31 L494.2,430.67 L495.7,430.98 L497.2,431.24 L498.7,431.47 L500.2,431.66 L501.7,431.84 L503.2,432 L504.7,432.17 L506.2,432.35 L507.7,432.55 L509.2,432.81 L510.7,433.12 L512.2,433.5 L513.7,433.97 L515.2,434.54 L516.7,435.21 L518.2,435.93 L519.7,436.7 L521.2,437.48 L522.7,438.26 L524.2,439.02 L525.7,439.74 L527.2,440.39 L528.7,440.96 L530.2,441.42 L531.7,441.77 L533.2,441.99 L534.7,442.13 L536.2,442.24 L537.7,442.34 L539.2,442.48 L540.7,442.7 L542.2,443 L543.7,443.38 L545.2,443.83 L546.7,444.32 L548.2,444.85 L549.7,445.4 L551.2,445.92 L552.7,446.41 L554.2,446.83 L555.7,447.16 L557.2,447.43 L558.7,447.64 L560.2,447.82 L561.7,448 L563.2,448.17 L564.7,448.37 L566.2,448.6 L567.7,448.87 L569.2,449.19 L570.7,449.56 L572.2,449.95 L573.7,450.35 L575.2,450.72 L576.7,451.05 L578.2,451.35 L579.7,451.63 L581.2,451.89 L582.7,452.15 L584.2,452.41 L585.7,452.67 L587.2,452.93 L588.7,453.19 L590.2,453.46 L591.7,453.73 L593.2,454 L594.7,454.28 L596.2,454.55 L597.7,454.83 L599.2,455.1 L600.7,455.38 L602.2,455.66 L603.7,455.93 L605.2,456.21 L606.7,456.48 L608.2,456.75 L609.7,457.03 L611.2,457.3 L612.7,457.56 L614.2,457.83 L615.7,458.09 L617.2,458.35 L618.7,458.6 L620.2,458.85 L621.7,459.1 L623.2,459.35 L624.7,459.59 L626.2,459.83 L627.7,460.07 L629.2,460.3 L630.7,460.54 L632.2,460.77 L633.7,460.99 L635.2,461.21 L636.7,461.43 L638.2,461.65 L639.7,461.86 L641.2,462.07 L642.7,462.28 L644.2,462.49 L645.7,462.69 L647.2,462.89 L648.7,463.08 L650.2,463.28 L651.7,463.47 L653.2,463.65 L654.7,463.84 L656.2,464.02 L657.7,464.2 L659.2,464.37 L660.7,464.54 L662.2,464.71 L663.7,464.88 L665.2,465.04 L666.7,465.2 L668.2,465.36 L669.7,465.51 L671.2,465.66 L672.7,465.81 L674.2,465.96 L675.7,466.1 L676.2,466.15" stroke="#0b7d0b" stroke-dasharray="4.7 2.3"/>
<path d="M119.2,376.3 L120.7,376.3 L122.2,376.3 L123.7,376.3 L125.2,376.3 L126.7,376.3 L128.2,376.3 L129.7,376.3 L131.2,376.3 L132.7,376.3 L134.2,376.3 L135.7,376.3 L137.2,376.3 L138.7,376.29 L140.2,376.29 L141.7,376.29 L143.2,376.29 L144.7,376.29 L146.2,376.29 L147.7,376.29 L149.2,376.29 L150.7,376.29 L152.2,376.29 L153.7,376.29 L155.2,376.29 L156.7,376.29 L158.2,376.28 L159.7,376.28 L161.2,376.28 L162.7,376.28 L164.2,376.28 L165.7,376.28 L167.2,376.28 L168.7,376.28 L170.2,376.28 L171.7,376.28 L173.2,376.27 L174.7,376.27 L176.2,376.27 L177.7,376.27 L179.2,376.27 L180.7,376.27 L182.2,376.27 L183.7,376.27 L185.2,376.26 L186.7,376.26 L188.2,376.26 L189.7,376.26 L191.2,376.26 L192.7,376.26 L194.2,376.26 L195.7,376.26 L197.2,376.25 L198.7,376.25 L200.2,376.25 L201.7,376.25 L203.2,376.25 L204.7,376.25 L206.2,376.25 L207.7,376.24 L209.2,376.24 L210.7,376.24 L212.2,376.24 L213.7,376.24 L215.2,376.24 L216.7,376.24 L218.2,376.24 L219.7,376.23 L221.2,376.23 L222.7,376.23 L224.2,376.23 L225.7,376.23 L227.2,376.23 L228.7,376.23 L230.2,376.23 L231.7,376.22 L233.2,376.22 L234.7,376.22 L236.2,376.22 L237.7,376.22 L239.2,376.22 L240.7,376.22 L242.2,376.22 L243.7,376.21 L245.2,376.21 L246.7,376.21 L248.2,376.21 L249.7,376.21 L251.2,376.21 L252.7,376.21 L254.2,376.21 L255.7,376.21 L257.2,376.21 L258.7,376.21 L260.2,376.2 L261.7,376.2 L263.2,376.2 L264.7,376.2 L266.2,376.2 L267.7,376.2 L269.2,376.2 L270.7,376.2 L272.2,376.2 L273.7,376.2 L275.2,376.2 L276.7,376.2 L278.2,376.2 L279.7,376.2 L281.2,376.19 L282.7,376.19 L284.2,376.19 L285.7,376.19 L287.2,376.19 L288.7,376.19 L290.2,376.19 L291.7,376.19 L293.2,376.19 L294.7,376.19 L296.2,376.19 L297.7,376.19 L299.2,376.19 L300.7,376.19 L302.2,376.19 L303.7,376.19 L305.2,376.19 L306.7,376.19 L308.2,376.19 L309.7,376.19 L311.2,376.19 L312.7,376.2 L314.2,376.2 L315.7,376.2 L317.2,376.2 L318.7,376.2 L320.2,376.2 L321.7,376.2 L323.2,376.2 L324.7,376.2 L326.2,376.2 L327.7,376.2 L329.2,376.2 L330.7,376.2 L332.2,376.21 L333.7,376.21 L335.2,376.21 L336.7,376.21 L338.2,376.21 L339.7,376.21 L341.2,376.21 L342.7,376.22 L344.2,376.22 L345.7,376.22 L347.2,376.23 L348.7,376.24 L350.2,376.27 L351.7,376.31 L353.2,376.36 L354.7,376.44 L356.2,376.54 L357.7,376.67 L359.2,376.82 L360.7,377 L362.2,377.2 L363.7,377.42 L365.2,377.65 L366.7,377.9 L368.2,378.17 L369.7,378.45 L371.2,378.74 L372.7,379.04 L374.2,379.36 L375.7,379.68 L377.2,380.02 L378.7,380.36 L380.2,380.72 L381.7,381.08 L383.2,381.44 L384.7,381.82 L386.2,382.2 L387.7,382.58 L389.2,382.97 L390.7,383.36 L392.2,383.75 L393.7,384.15 L395.2,384.55 L396.7,384.97 L398.2,385.39 L399.7,385.84 L401.2,386.29 L402.7,386.77 L404.2,387.28 L405.7,387.82 L407.2,388.4 L408.7,389.03 L410.2,389.7 L411.7,390.42 L413.2,391.17 L414.7,391.96 L416.2,392.78 L417.7,393.62 L419.2,394.47 L420.7,395.34 L422.2,396.22 L423.7,397.12 L425.2,398.04 L426.7,398.97 L428.2,399.92 L429.7,400.89 L431.2,401.88 L432.7,402.88 L434.2,403.9 L435.7,404.94 L437.2,406 L438.7,407.07 L440.2,408.17 L441.7,409.28 L443.2,410.41 L444.7,411.57 L446.2,412.74 L447.7,413.93 L449.2,415.15 L450.7,416.38 L452.2,417.63 L453.7,418.91 L455.2,420.21 L456.7,421.53 L458.2,422.87 L459.7,424.23 L461.2,425.61 L462.7,427.02 L464.2,428.46 L465.7,429.92 L467.2,431.43 L468.7,432.98 L470.2,434.57 L471.7,436.23 L473.2,437.94 L474.7,439.72 L476.2,441.57 L477.7,443.49 L479.2,445.5 L480.7,447.6 L482.2,449.72 L483.7,451.83 L485.2,453.87 L486.7,455.78 L488.2,457.57 L489.7,459.23 L491.2,460.78 L492.7,462.22 L494.2,463.56 L495.7,464.81 L497.2,465.97 L498.7,467.05 L500.2,468.06 L501.7,469.03 L503.2,469.97 L504.7,470.89 L506.2,471.83 L507.7,472.79 L509.2,473.8 L510.7,474.86 L512.2,476.01 L513.7,477.26 L515.2,478.62 L516.7,480.11 L518.2,481.67 L519.7,483.24 L521.2,484.76 L522.7,486.16 L524.2,487.41 L525.7,488.48 L527.2,489.37 L528.7,490.07 L530.2,490.61 L531.7,491.05 L533.2,491.43 L534.7,491.79 L536.2,492.15 L537.7,492.52 L539.2,492.9 L540.7,493.3 L542.2,493.73 L543.7,494.2 L545.2,494.72 L546.7,495.29 L548.2,495.93 L549.7,496.61 L551.2,497.29 L552.7,497.95 L554.2,498.55 L555.7,499.06 L557.2,499.51 L558.7,499.91 L560.2,500.27 L561.7,500.61 L563.2,500.95 L564.7,501.27 L566.2,501.6 L567.7,501.91 L569.2,502.21 L570.7,502.51 L572.2,502.8 L573.7,503.09 L575.2,503.36 L576.7,503.63 L578.2,503.9 L579.7,504.15 L581.2,504.4 L582.7,504.64 L584.2,504.88 L585.7,505.1 L587.2,505.33 L588.7,505.54 L590.2,505.75 L591.7,505.96 L593.2,506.15 L594.7,506.35 L596.2,506.53 L597.7,506.71 L599.2,506.89 L600.7,507.06 L602.2,507.22 L603.7,507.38 L605.2,507.54 L606.7,507.69 L608.2,507.83 L609.7,507.98 L611.2,508.11 L612.7,508.24 L614.2,508.37 L615.7,508.5 L617.2,508.62 L618.7,508.73 L620.2,508.85 L621.7,508.96 L623.2,509.06 L624.7,509.16 L626.2,509.26 L627.7,509.36 L629.2,509.46 L630.7,509.55 L632.2,509.64 L633.7,509.72 L635.2,509.81 L636.7,509.89 L638.2,509.97 L639.7,510.05 L641.2,510.12 L642.7,510.2 L644.2,510.27 L645.7,510.34 L647.2,510.41 L648.7,510.47 L650.2,510.54 L651.7,510.6 L653.2,510.66 L654.7,510.73 L656.2,510.79 L657.7,510.84 L659.2,510.9 L660.7,510.96 L662.2,511.02 L663.7,511.07 L665.2,511.13 L666.7,511.18 L668.2,511.23 L669.7,511.29 L671.2,511.34 L672.7,511.39 L674.2,511.45 L675.7,511.5 L676.2,511.52" stroke="#0a0aff" stroke-dasharray="2.3 3.65"/>
</g>
<path d="M175.1,2.5 V6.1 M175.1,359 V366.2 M175.1,512.6 V509 M207.8,2.5 V6.1 M207.8,359 V366.2 M207.8,512.6 V509 M231,2.5 V6.1 M231,359 V366.2 M231,512.6 V509 M249,2.5 V6.1 M249,359 V366.2 M249,512.6 V509 M263.7,2.5 V6.1 M263.7,359 V366.2 M263.7,512.6 V509 M276.13,2.5 V6.1 M276.13,359 V366.2 M276.13,512.6 V509 M286.9,2.5 V6.1 M286.9,359 V366.2 M286.9,512.6 V509 M296.4,2.5 V6.1 M296.4,359 V366.2 M296.4,512.6 V509 M304.9,2.5 V10.2 M304.9,354.9 V370.3 M304.9,512.6 V504.9 M360.8,2.5 V6.1 M360.8,359 V366.2 M360.8,512.6 V509 M393.5,2.5 V6.1 M393.5,359 V366.2 M393.5,512.6 V509 M416.7,2.5 V6.1 M416.7,359 V366.2 M416.7,512.6 V509 M434.7,2.5 V6.1 M434.7,359 V366.2 M434.7,512.6 V509 M449.4,2.5 V6.1 M449.4,359 V366.2 M449.4,512.6 V509 M461.83,2.5 V6.1 M461.83,359 V366.2 M461.83,512.6 V509 M472.6,2.5 V6.1 M472.6,359 V366.2 M472.6,512.6 V509 M482.1,2.5 V6.1 M482.1,359 V366.2 M482.1,512.6 V509 M490.6,2.5 V10.2 M490.6,354.9 V370.3 M490.6,512.6 V504.9 M546.5,2.5 V6.1 M546.5,359 V366.2 M546.5,512.6 V509 M579.2,2.5 V6.1 M579.2,359 V366.2 M579.2,512.6 V509 M602.4,2.5 V6.1 M602.4,359 V366.2 M602.4,512.6 V509 M620.4,2.5 V6.1 M620.4,359 V366.2 M620.4,512.6 V509 M635.1,2.5 V6.1 M635.1,359 V366.2 M635.1,512.6 V509 M647.53,2.5 V6.1 M647.53,359 V366.2 M647.53,512.6 V509 M658.3,2.5 V6.1 M658.3,359 V366.2 M658.3,512.6 V509 M667.8,2.5 V6.1 M667.8,359 V366.2 M667.8,512.6 V509 M119.2,347.93 H122.8 M676.3,347.93 H672.7 M119.2,340.95 H126.9 M676.3,340.95 H668.6 M119.2,319.26 H122.8 M676.3,319.26 H672.7 M119.2,290.59 H122.8 M676.3,290.59 H672.7 M119.2,275.88 H122.8 M676.3,275.88 H672.7 M119.2,268.9 H126.9 M676.3,268.9 H668.6 M119.2,247.21 H122.8 M676.3,247.21 H672.7 M119.2,218.54 H122.8 M676.3,218.54 H672.7 M119.2,203.83 H122.8 M676.3,203.83 H672.7 M119.2,196.85 H126.9 M676.3,196.85 H668.6 M119.2,175.16 H122.8 M676.3,175.16 H672.7 M119.2,146.49 H122.8 M676.3,146.49 H672.7 M119.2,131.78 H122.8 M676.3,131.78 H672.7 M119.2,124.8 H126.9 M676.3,124.8 H668.6 M119.2,103.11 H122.8 M676.3,103.11 H672.7 M119.2,74.44 H122.8 M676.3,74.44 H672.7 M119.2,59.73 H122.8 M676.3,59.73 H672.7 M119.2,52.75 H126.9 M676.3,52.75 H668.6 M119.2,31.06 H122.8 M676.3,31.06 H672.7 M119.2,376.2 H126.9 M676.3,376.2 H668.6 M119.2,444.4 H126.9 M676.3,444.4 H668.6" stroke="#000" stroke-width="1.25" fill="none"/>
<g stroke="#000" stroke-width="1.9" fill="none" stroke-linecap="square">
<rect x="119.2" y="2.5" width="557.1" height="510.1"/>
<path d="M119.2,362.6 H676.3" stroke-linecap="butt"/>
</g>
<g font-family="'Liberation Sans', sans-serif" font-size="20" fill="#000" stroke="#000" stroke-width="0.35">
<text transform="translate(108,59.5)" text-anchor="end">10000</text>
<text transform="translate(108,131.55)" text-anchor="end">1000</text>
<text transform="translate(108,203.6)" text-anchor="end">100</text>
<text transform="translate(108,275.65)" text-anchor="end">10</text>
<text transform="translate(107,347.7)" text-anchor="end">1</text>
<text transform="translate(108,382.95)" text-anchor="end">0</text>
<text transform="translate(108,451.15)" text-anchor="end">-<tspan dx="-1.3">0.5</tspan></text>
<text transform="translate(107,519.35)" text-anchor="end">-<tspan dx="-1.3">1</tspan></text>
<text transform="translate(122.2,538.4)" font-size="19.6" text-anchor="middle">0.001</text>
<text transform="translate(307.9,538.4)" font-size="19.6" text-anchor="middle">0.01</text>
<text transform="translate(493.6,538.4)" font-size="19.6" text-anchor="middle">0.1</text>
<text transform="translate(679.3,538.4)" font-size="19.6" text-anchor="middle">1</text>
</g>
<g fill="#000">
<text transform="matrix(0.33,0,0,0.298,334.111,570.5)" font-family="'Liberation Serif', serif" font-size="100" font-style="italic">k</text>
<path d="M361.03,548.4 V576.8" stroke="#000" stroke-width="1.45" fill="none"/><path d="M361.03,548.9 H364.9 M361.03,576.3 H364.9" stroke="#000" stroke-width="1.0" fill="none"/>
<text transform="matrix(0.35,0,0,0.298,364.774,570.5)" font-family="'Liberation Serif', serif" font-size="100" font-style="italic">h</text>
<path d="M383.5,576.6 L394.5,548.4" stroke="#000" stroke-width="1.25" fill="none"/>
<text transform="matrix(0.304,0,0,0.305,396.864,570.2)" font-family="'Liberation Serif', serif" font-size="100">M</text>
<text transform="matrix(0.371,0,0,0.286,423.044,569.929)" font-family="'Liberation Serif', serif" font-size="100">p</text>
<text transform="matrix(0.315,0,0,0.296,439.82,570.404)" font-family="'Liberation Serif', serif" font-size="100">c</text>
<path d="M457.38,548.4 V576.8" stroke="#000" stroke-width="1.45" fill="none"/><path d="M457.38,548.9 H453.3 M457.38,576.3 H453.3" stroke="#000" stroke-width="1.0" fill="none"/>
<text transform="rotate(-90) matrix(0.359,0,0,0.308,-273.52,31.1)" font-family="'Liberation Serif', serif" font-size="100" font-style="italic">P</text>
<text transform="rotate(-90) matrix(0.28,0,0,0.32,-254.688,31.048)" font-family="'Liberation Serif', serif" font-size="100">(</text>
<text transform="rotate(-90) matrix(0.327,0,0,0.298,-244.682,31.1)" font-family="'Liberation Serif', serif" font-size="100" font-style="italic">k</text>
<text transform="rotate(-90) matrix(0.28,0,0,0.32,-229.609,31.048)" font-family="'Liberation Serif', serif" font-size="100">)</text>
<path d="M8.8,207.08 H37.85" stroke="#000" stroke-width="1.45" fill="none"/><path d="M9.3,207.08 V203 M37.35,207.08 V203" stroke="#000" stroke-width="1.0" fill="none"/>
<text transform="rotate(-90) matrix(0.343,0,0,0.298,-201.401,31.1)" font-family="'Liberation Serif', serif" font-size="100" font-style="italic">h</text>
<text transform="rotate(-90) matrix(0.219,0,0,0.28,-185.622,15.93)" font-family="'Liberation Serif', serif" font-size="100">-</text>
<text transform="rotate(-90) matrix(0.252,0,0,0.239,-178.198,16.361)" font-family="'Liberation Serif', serif" font-size="100">3</text>
<text transform="rotate(-90) matrix(0.299,0,0,0.308,-165.923,31.1)" font-family="'Liberation Serif', serif" font-size="100">M</text>
<text transform="rotate(-90) matrix(0.372,0,0,0.281,-139.958,30.322)" font-family="'Liberation Serif', serif" font-size="100">p</text>
<text transform="rotate(-90) matrix(0.317,0,0,0.298,-122.99,31.102)" font-family="'Liberation Serif', serif" font-size="100">c</text>
<text transform="rotate(-90) matrix(0.245,0,0,0.239,-109.763,16.361)" font-family="'Liberation Serif', serif" font-size="100">3</text>
<path d="M8.8,93.52 H37.85" stroke="#000" stroke-width="1.45" fill="none"/><path d="M9.3,93.52 V97.4 M37.35,93.52 V97.4" stroke="#000" stroke-width="1.0" fill="none"/>
<text transform="rotate(-90) matrix(0.367,0,0,0.311,-474.408,33.6)" font-family="'Liberation Serif', serif" font-size="100" font-style="italic">Δ</text>
<text transform="rotate(-90) matrix(0.347,0,0,0.302,-451.126,33.8)" font-family="'Liberation Serif', serif" font-size="100" font-style="italic">P</text>
<path d="M14.4,420.5 L35.6,430.6" stroke="#000" stroke-width="1.25" fill="none"/>
<text transform="rotate(-90) matrix(0.358,0,0,0.304,-415.421,33.7)" font-family="'Liberation Serif', serif" font-size="100" font-style="italic">P</text>
</g>
</svg>
</body></html>
